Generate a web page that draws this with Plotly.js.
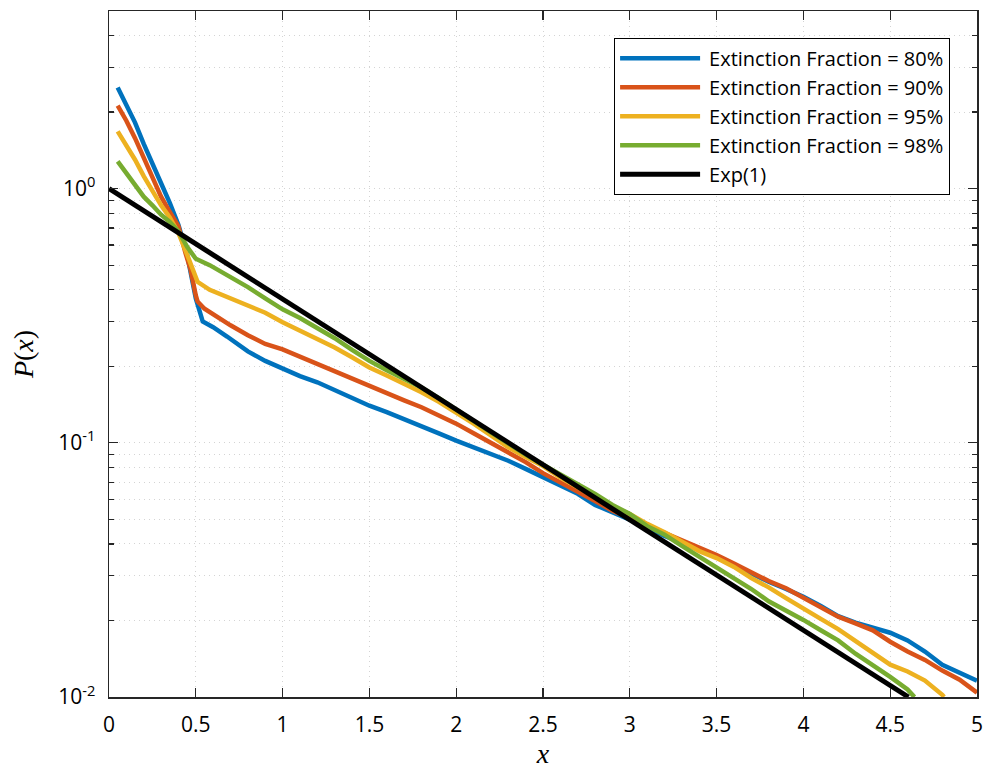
<!DOCTYPE html>
<html>
<head>
<meta charset="utf-8">
<script src="https://cdn.plot.ly/plotly-3.0.1.min.js"></script>
<style>html,body{margin:0;padding:0;background:#fff}#plot{width:984px;height:769px}</style>
</head>
<body>
<div id="plot"></div>
<script>
// Extinction Fraction = 80%
const x80 = [0.05,0.1,0.15,0.2,0.25,0.3,0.35,0.4,0.45,0.48,0.5,0.54,0.6,0.68,0.8,0.9,1.0,1.1,1.2,1.3,1.4,1.5,1.6,1.7,1.8,1.9,2.0,2.1,2.2,2.3,2.4,2.5,2.6,2.7,2.8,2.9,3.0,3.1,3.2,3.3,3.4,3.5,3.6,3.7,3.8,3.9,4.0,4.1,4.2,4.3,4.4,4.5,4.6,4.7,4.8,4.9,5.0];
const y80 = [2.5,2.15,1.82,1.5,1.24,1.05,0.88,0.72,0.55,0.44,0.37,0.30,0.285,0.262,0.229,0.21,0.195,0.183,0.173,0.161,0.150,0.140,0.132,0.124,0.117,0.109,0.102,0.096,0.090,0.085,0.079,0.0735,0.068,0.063,0.057,0.053,0.0498,0.0465,0.043,0.0405,0.038,0.0355,0.033,0.0305,0.0284,0.0266,0.0248,0.0228,0.0208,0.0196,0.0187,0.0179,0.0167,0.0151,0.0134,0.0124,0.0116];
// Extinction Fraction = 90%
const x90 = [0.05,0.1,0.15,0.2,0.25,0.3,0.35,0.4,0.44,0.47,0.5,0.51,0.55,0.6,0.7,0.8,0.9,1.0,1.1,1.2,1.3,1.4,1.5,1.6,1.7,1.8,1.9,2.0,2.1,2.2,2.3,2.4,2.5,2.6,2.7,2.8,2.9,3.0,3.1,3.2,3.3,3.4,3.5,3.6,3.7,3.8,3.9,4.0,4.1,4.2,4.3,4.4,4.5,4.6,4.7,4.8,4.9,5.0];
const y90 = [2.12,1.85,1.58,1.33,1.1,0.93,0.81,0.71,0.56,0.48,0.38,0.36,0.337,0.32,0.29,0.265,0.245,0.233,0.218,0.205,0.192,0.178,0.167,0.157,0.147,0.138,0.128,0.119,0.109,0.100,0.092,0.084,0.076,0.070,0.064,0.059,0.054,0.0505,0.047,0.0442,0.0415,0.0385,0.0362,0.0335,0.031,0.0286,0.0268,0.0245,0.0226,0.0207,0.0195,0.0183,0.0165,0.0151,0.0140,0.0127,0.0117,0.0104];
// Extinction Fraction = 95%
const x95 = [0.05,0.1,0.15,0.2,0.25,0.3,0.35,0.4,0.45,0.49,0.51,0.58,0.7,0.8,0.9,1.0,1.1,1.2,1.3,1.4,1.5,1.6,1.7,1.8,1.9,2.0,2.1,2.2,2.3,2.4,2.5,2.6,2.7,2.8,2.9,3.0,3.1,3.2,3.3,3.4,3.5,3.6,3.7,3.8,3.9,4.0,4.1,4.2,4.3,4.4,4.5,4.6,4.7,4.8,4.81];
const y95 = [1.68,1.48,1.3,1.12,0.98,0.86,0.77,0.67,0.55,0.46,0.43,0.40,0.37,0.348,0.325,0.298,0.276,0.258,0.237,0.217,0.198,0.184,0.171,0.158,0.145,0.132,0.119,0.107,0.096,0.088,0.081,0.073,0.067,0.061,0.056,0.0525,0.048,0.0445,0.041,0.0375,0.0352,0.0325,0.0294,0.027,0.0245,0.0222,0.0203,0.0185,0.0166,0.0148,0.0134,0.0126,0.0116,0.0102,0.0100];
// Extinction Fraction = 98%
const x98 = [0.05,0.1,0.15,0.2,0.25,0.3,0.35,0.4,0.45,0.5,0.58,0.7,0.8,0.9,1.0,1.1,1.2,1.3,1.4,1.5,1.6,1.7,1.8,1.9,2.0,2.1,2.2,2.3,2.4,2.5,2.6,2.7,2.8,2.9,3.0,3.1,3.2,3.3,3.4,3.5,3.6,3.7,3.8,3.9,4.0,4.1,4.2,4.3,4.4,4.5,4.6,4.64];
const y98 = [1.28,1.15,1.03,0.93,0.86,0.79,0.74,0.68,0.59,0.53,0.50,0.45,0.41,0.37,0.335,0.31,0.283,0.258,0.232,0.21,0.193,0.178,0.165,0.150,0.136,0.122,0.110,0.099,0.090,0.082,0.075,0.069,0.063,0.057,0.0525,0.047,0.0435,0.0393,0.0357,0.0326,0.0296,0.0266,0.0238,0.0219,0.0201,0.0183,0.0167,0.0148,0.0134,0.012,0.0107,0.0100];
// Exp(1): straight on log axis, endpoints
const xExp = [0, 4.605];
const yExp = [1, 0.01];

const seriesNames = ['Extinction Fraction = 80%','Extinction Fraction = 90%','Extinction Fraction = 95%','Extinction Fraction = 98%','Exp(1)'];
const colors = ['#0072BD','#D95319','#EDB120','#77AC30','#000000'];

const yTickVals = [0.01, 0.1, 1];
const yTickText = ['10<sup>-2</sup>','10<sup>-1</sup>','10<sup>0</sup>'];
const yMinorVals = [0.02,0.03,0.04,0.05,0.06,0.07,0.08,0.09,0.2,0.3,0.4,0.5,0.6,0.7,0.8,0.9,2,3,4];
const xTickVals = [0,0.5,1,1.5,2,2.5,3,3.5,4,4.5,5];
const xTickText = ['0','0.5','1','1.5','2','2.5','3','3.5','4','4.5','5'];

const xs = [x80,x90,x95,x98,xExp];
const ys = [y80,y90,y95,y98,yExp];
const traces = xs.map((x,i)=>({
  x: x, y: ys[i], type:'scatter', mode:'lines', name: seriesNames[i],
  line:{color:colors[i], width: i===4?5:4.5}
}));

const gridColor = '#d4d4d4';
const axisColor = '#262626';
const sansFam = '"Open Sans", "Noto Sans", sans-serif';
const tickFont = {family:sansFam, size:21, color:'#000'};

const layout = {
  width:984, height:769,
  margin:{l:109, r:7, t:11, b:72, pad:0},
  paper_bgcolor:'#fff', plot_bgcolor:'#fff',
  showlegend:true,
  legend:{x:0.969, xanchor:'right', y:0.961, yanchor:'top',
    bgcolor:'#fff', bordercolor:'#000', borderwidth:1,
    font:{family:sansFam, size:20, color:'#000'},
    itemwidth:84, tracegroupgap:0},
  xaxis:{
    range:[0,5], tickmode:'array', tickvals:xTickVals, ticktext:xTickText,
    ticks:'inside', ticklen:9, tickcolor:axisColor, tickwidth:1.3,
    ticklabelstandoff:8,
    showline:true, linecolor:axisColor, linewidth:1.5, mirror:'ticks',
    showgrid:true, gridcolor:gridColor, griddash:'1px,4px', gridwidth:1,
    zeroline:false, tickfont:tickFont,
    title:{text:'<i>x</i>', font:{family:'"Liberation Serif", "DejaVu Serif", serif', size:28, color:'#000'}, standoff:10}
  },
  yaxis:{
    type:'log', range:[-2, Math.log10(5)],
    tickmode:'array', tickvals:yTickVals, ticktext:yTickText,
    ticks:'inside', ticklen:9, tickcolor:axisColor, tickwidth:1.3,
    ticklabelstandoff:8,
    showline:true, linecolor:axisColor, linewidth:1.5, mirror:'ticks',
    showgrid:true, gridcolor:gridColor, griddash:'1px,4px', gridwidth:1,
    zeroline:false, tickfont:tickFont,
    minor:{tickmode:'array', tickvals:yMinorVals, ticks:'inside', ticklen:5, tickcolor:axisColor,
      showgrid:true, gridcolor:gridColor, griddash:'1px,4px', gridwidth:1},
    title:{text:'<i>P</i>(<i>x</i>)', font:{family:'"Liberation Serif", "DejaVu Serif", serif', size:28, color:'#000'}, standoff:16}
  }
};

Plotly.newPlot('plot', traces, layout, {displayModeBar:false, staticPlot:true}).then(function(gd){
  // lengthen legend line samples to match the reference
  gd.querySelectorAll('.legend .legendlines path').forEach(function(p){ p.setAttribute('d','M5,0h80'); });
});
</script>
</body>
</html>
